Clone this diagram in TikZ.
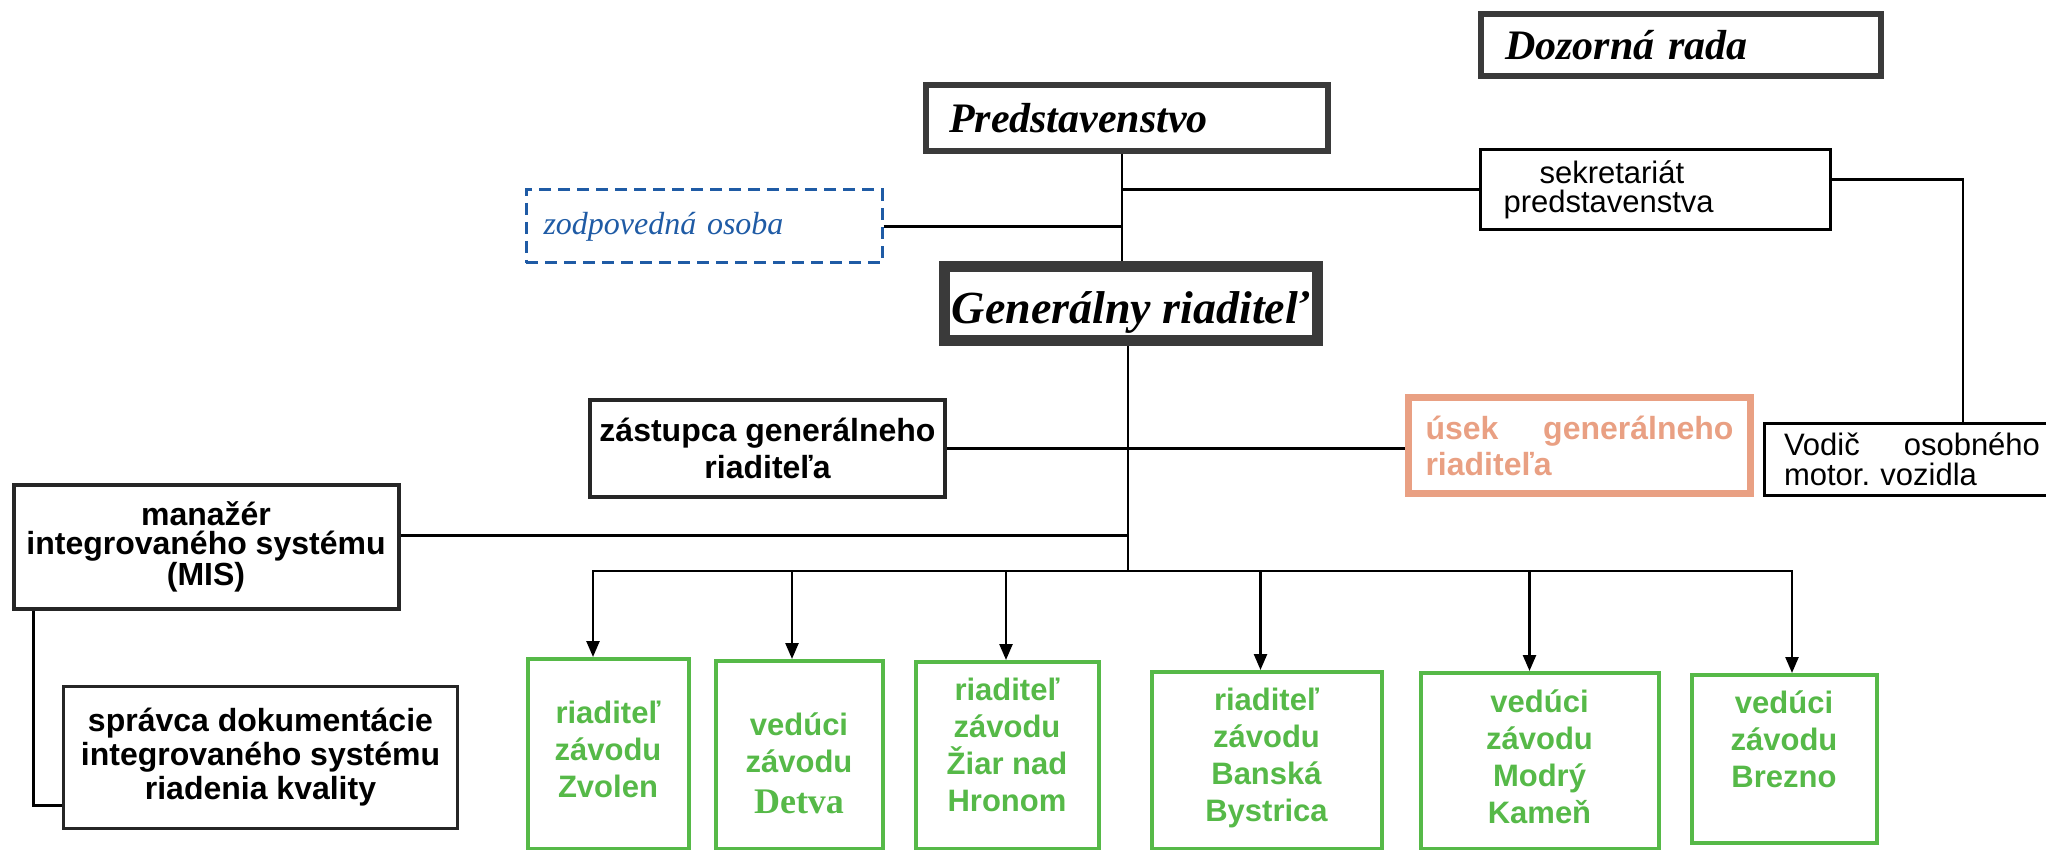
\documentclass[tikz,border=0pt]{standalone}
\usepackage{fontspec}
\setmainfont{Liberation Serif}
\setsansfont{Liberation Sans}
\usetikzlibrary{arrows.meta}

\definecolor{frame}{HTML}{3A3A3A}
\definecolor{zavod}{HTML}{56B948}
\definecolor{usek}{HTML}{E9A083}
\definecolor{osoba}{HTML}{1F5BA5}

\frenchspacing

\begin{document}
\begin{tikzpicture}[
    x = 1pt,
    y = -1pt,
    line width = 2.5pt,
    >={Triangle[width=13pt,length=16pt]},
    box/.style = {
      draw,
      inner sep = 0pt,
      align = center
    },
    headbox/.style = {box, draw=frame, line width=6pt, font=\rmfamily\bfseries\itshape\fontsize{42}{48}\selectfont},
    plainbox/.style = {box, line width=3pt, align=left, font=\sffamily\fontsize{31}{29}\selectfont},
    boldbox/.style = {box, draw=black!85, line width=4pt, font=\sffamily\bfseries\fontsize{32}{34}\selectfont},
    plantbox/.style = {box, draw=zavod, line width=4pt, anchor=north},
    planttext/.style = {anchor=north, inner sep=0pt, align=center, text=zavod, font=\sffamily\bfseries\fontsize{31}{37}\selectfont}
  ]
  \clip (0,0) rectangle (2046,850);

  % top management
  \node[headbox, minimum width=400pt, minimum height=62pt, text width=352pt, align=left] (dozor) at (1681,45) {Dozorná rada};
  \node[headbox, minimum width=402pt, minimum height=66pt, text width=356pt, align=left] (predst) at (1127,118) {Predstavenstvo};
  \node[plainbox, minimum width=350pt, minimum height=80pt, text width=304pt] (sekret) at (1655.5,189.5) {\hspace*{36pt}sekretariát\\predstavenstva};
  \node[box, draw=osoba, line width=3pt, dash pattern=on 12pt off 7pt, minimum width=356pt, minimum height=73pt,
        text width=321pt, align=left, text=osoba, font=\rmfamily\itshape\fontsize{32}{36}\selectfont] (zodp) at (704,226.5) {zodpovedná osoba};
  \node[headbox, line width=11pt, minimum width=373pt, minimum height=74pt, align=center, text height=40pt, text depth=0pt,
        font=\rmfamily\bfseries\itshape\fontsize{46}{50}\selectfont] (genrad) at (1130.5,304) {Generálny riaditeľ};

  % second level
  \node[boldbox, minimum width=355pt, minimum height=97pt, font=\sffamily\bfseries\fontsize{32}{37}\selectfont] (zast) at (767.5,448.5) {zástupca generálneho\\riaditeľa};
  \node[box, draw=usek, line width=7pt, minimum width=342pt, minimum height=96pt, text width=308pt, align=left,
        text=usek, font=\sffamily\bfseries\fontsize{32}{36}\selectfont] (usek) at (1579.5,445.5) {úsek\hfill generálneho\\riaditeľa};
  \node[plainbox, minimum width=296pt, minimum height=72pt, text width=256pt, yshift=0pt, font=\sffamily\fontsize{31}{30}\selectfont] (vodic) at (1912,459) {Vodič\hfill osobného\\motor. vozidla\\[-8pt]};
  \node[boldbox, minimum width=385pt, minimum height=124pt, font=\sffamily\bfseries\fontsize{32}{29}\selectfont] (mis) at (206,546.5) {manažér\\integrovaného systému\\(MIS)};
  \node[boldbox, line width=3.5pt, minimum width=394pt, minimum height=142pt] (sprav) at (260.5,757.5) {správca dokumentácie\\integrovaného systému\\riadenia kvality};

  % plants
  \node[plantbox, minimum width=161pt, minimum height=190pt, label={[planttext, yshift=-43pt]north:riaditeľ\\závodu\\Zvolen}] (zv) at (608,657) {};
  \node[plantbox, minimum width=167pt, minimum height=188pt,
        label={[planttext, yshift=-53pt]north:vedúci\\závodu\\[4pt]{\rmfamily\fontsize{36}{40}\selectfont Detva}}] (de) at (799,659) {};
  \node[plantbox, minimum width=183pt, minimum height=187pt, label={[planttext, yshift=-17pt]north:riaditeľ\\závodu\\Žiar nad\\Hronom}] (zi) at (1007,660) {};
  \node[plantbox, minimum width=230pt, minimum height=177pt, label={[planttext, yshift=-17pt]north:riaditeľ\\závodu\\Banská\\Bystrica}] (bb) at (1266.5,670) {};
  \node[plantbox, minimum width=238pt, minimum height=176pt, label={[planttext, yshift=-18pt]north:vedúci\\závodu\\Modrý\\Kameň}] (mk) at (1539.5,671) {};
  \node[plantbox, minimum width=185pt, minimum height=168pt, label={[planttext, yshift=-17pt]north:vedúci\\závodu\\Brezno}] (br) at (1784,673) {};

  % connectors
  \coordinate (stem) at (1122,160);
  \coordinate (bus) at (1128,571);

  \draw (predst.south -| stem) -- (genrad.north -| stem);
  \draw (sekret.west) -| (stem);
  \draw (zodp.east) -| (stem);
  \draw ([yshift=10pt]sekret.east) -| ([xshift=51pt]vodic.north);

  \draw (genrad.south -| bus) -- (bus);
  \draw (zast.east) -- (zast.east -| usek.west);
  \draw ([yshift=11pt]mis.east) -| (bus);
  \draw ([xshift=22pt]mis.south west) |- ([yshift=-48pt]sprav.west);

  \foreach \z/\dx in {zv/-15,de/-7,zi/-1,bb/-6,mk/-10,br/8}
    \draw[->] (bus) -| ([xshift=\dx pt]\z.north);
\end{tikzpicture}
\end{document}
